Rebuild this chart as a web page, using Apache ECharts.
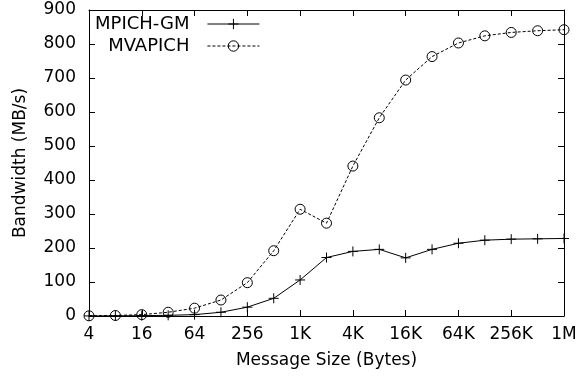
<!DOCTYPE html>
<html>
<head>
<meta charset="utf-8">
<script src="https://cdn.jsdelivr.net/npm/echarts@6/dist/echarts.min.js"></script>
<style>
html,body{margin:0;padding:0;background:#fff;}
#c{width:582px;height:379px;}
</style>
</head>
<body>
<div id="c"></div>
<script>
const sizes = [4,8,16,32,64,128,256,512,1024,2048,4096,8192,16384,32768,65536,131072,262144,524288,1048576];
const mpichGM = [0.2,0.5,1,2,4,11,26,52,106,172,190,196,171,196,214,223,226,227,228];
const mvapich = [0.5,1.5,4,11,23,47,98,192,314,273,441,583,694,763,803,824,834,839,842];
const xTickLabels = ['4','16','64','256','1K','4K','16K','64K','256K','1M'];

const FONT = 'DejaVu Sans';
const chart = echarts.init(document.getElementById('c'), null, {renderer:'canvas'});

function pairs(vals){ return sizes.map((s,i)=>[s, vals[i]]); }

const xBase = {
  type:'log', logBase:4, min:4, max:1048576, splitNumber:9,
  axisLine:{show:true, onZero:false, lineStyle:{color:'#000', width:1}},
  axisTick:{show:true, inside:true, length:6, lineStyle:{color:'#000', width:1}},
  minorTick:{show:false},
  splitLine:{show:false}
};
const yBase = {
  type:'value', min:0, max:900, interval:100,
  axisLine:{show:true, onZero:false, lineStyle:{color:'#000', width:1}},
  axisTick:{show:true, inside:true, length:6, lineStyle:{color:'#000', width:1}},
  splitLine:{show:false}
};

chart.setOption({
  animation:false,
  backgroundColor:'#fff',
  textStyle:{fontFamily:FONT},
  grid:{left:89, right:18, top:10, bottom:63, containLabel:false},
  legend:{
    orient:'vertical', align:'right', left:95, top:15, padding:0,
    itemWidth:52, itemHeight:13, itemGap:4,
    lineStyle:{width:1, color:'#000'},
    itemStyle:{borderWidth:1, borderColor:'#000'},
    textStyle:{fontFamily:FONT, fontSize:18, color:'#000', padding:[0,13,0,0], lineHeight:18},
    data:['MPICH-GM','MVAPICH']
  },
  xAxis:[
    Object.assign({}, xBase, {
      position:'bottom',
      name:'Message Size (Bytes)', nameLocation:'middle', nameGap:36,
      nameTextStyle:{fontFamily:FONT, fontSize:17, color:'#000'},
      axisLabel:{show:true, margin:10, fontFamily:FONT, fontSize:17, color:'#000',
        formatter:function(v){ const k = Math.round(Math.log(v)/Math.log(4)) - 1; return xTickLabels[k] || ''; }}
    }),
    Object.assign({}, xBase, {position:'top', axisLabel:{show:false}})
  ],
  yAxis:[
    Object.assign({}, yBase, {
      position:'left',
      name:'Bandwidth (MB/s)', nameLocation:'middle', nameGap:60,
      nameTextStyle:{fontFamily:FONT, fontSize:17, color:'#000'},
      axisLabel:{show:true, margin:13, fontFamily:FONT, fontSize:17, color:'#000'}
    }),
    Object.assign({}, yBase, {position:'right', axisLabel:{show:false}})
  ],
  series:[
    {
      name:'MPICH-GM', type:'line', data:pairs(mpichGM), clip:false,
      symbol:'path://M0,-5L0,5M-5,0L5,0', symbolSize:10, showSymbol:true,
      lineStyle:{color:'#000', width:1, type:'solid'},
      itemStyle:{color:'#000', borderColor:'#000', borderWidth:1}
    },
    {
      name:'MVAPICH', type:'line', data:pairs(mvapich), clip:false,
      symbol:'circle', symbolSize:10, showSymbol:true,
      lineStyle:{color:'#000', width:1, type:[3,2]},
      itemStyle:{color:'rgba(0,0,0,0)', borderColor:'#000', borderWidth:1}
    }
  ]
});
</script>
</body>
</html>
